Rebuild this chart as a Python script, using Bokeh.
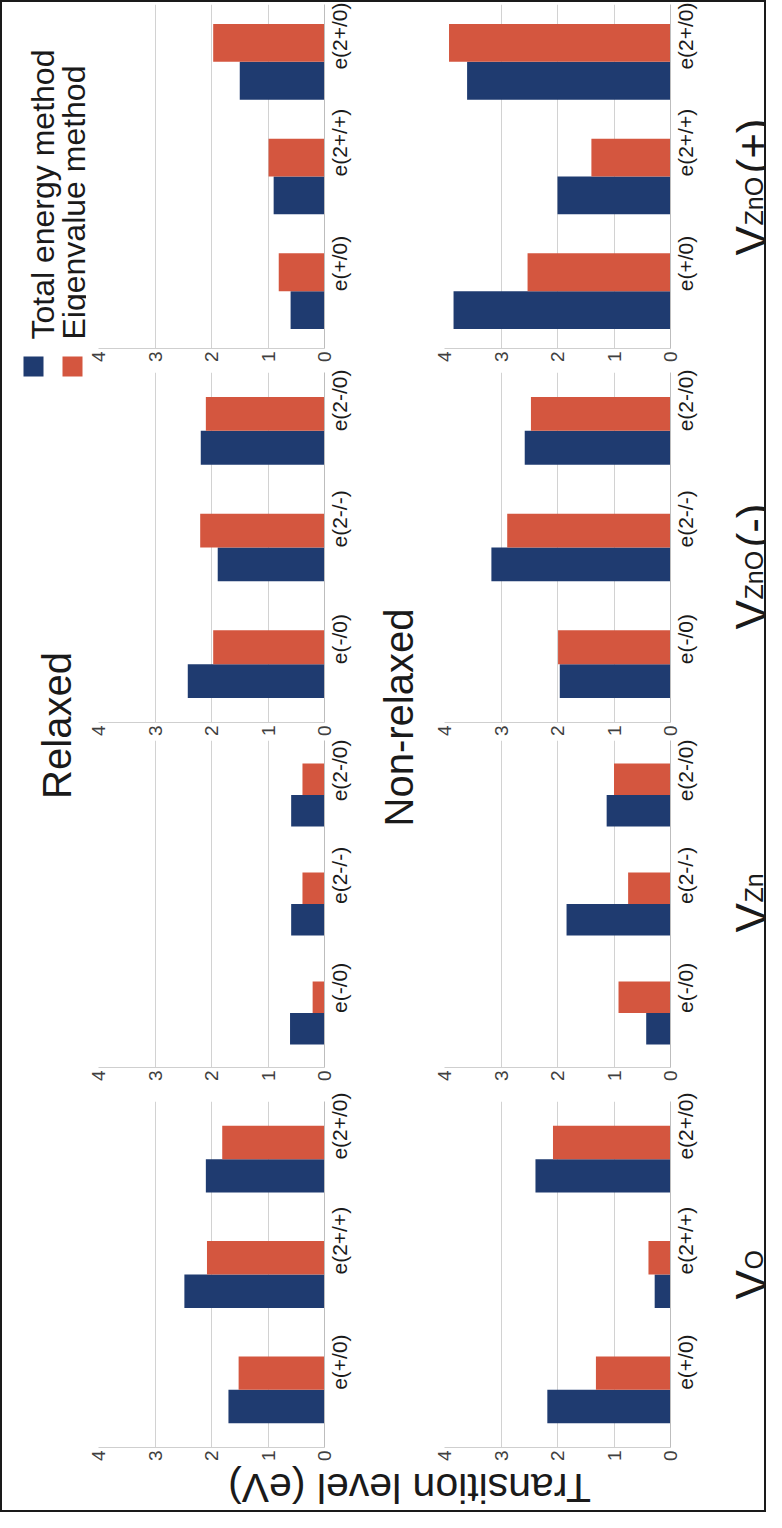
from math import pi
from bokeh.plotting import figure
from bokeh.models import Range1d, FactorRange, FixedTicker, ColumnDataSource, Label
from bokeh.layouts import row, column
from bokeh.transform import dodge
from bokeh.embed import file_html
from bokeh.resources import INLINE

FONT = "Liberation Sans"
BLUE = "#1f3b70"
RED = "#d4563f"
TXT = "#1a1a1a"

# ---------------- data (original column order, left -> right) ----------------
cats_vo = ["e(+/0)", "e(2+/+)", "e(2+/0)"]
cats_vzn = ["e(-/0)", "e(2-/-)", "e(2-/0)"]
cats_vzno_minus = ["e(-/0)", "e(2-/-)", "e(2-/0)"]
cats_vzno_plus = ["e(+/0)", "e(2+/+)", "e(2+/0)"]

relaxed_total_vo = [1.70, 2.48, 2.10]
relaxed_eigen_vo = [1.52, 2.08, 1.81]
relaxed_total_vzn = [0.61, 0.59, 0.59]
relaxed_eigen_vzn = [0.21, 0.39, 0.39]
relaxed_total_vzno_minus = [2.42, 1.89, 2.19]
relaxed_eigen_vzno_minus = [1.97, 2.20, 2.10]
relaxed_total_vzno_plus = [0.60, 0.90, 1.50]
relaxed_eigen_vzno_plus = [0.81, 0.99, 1.97]

nonrelaxed_total_vo = [2.18, 0.28, 2.39]
nonrelaxed_eigen_vo = [1.32, 0.39, 2.08]
nonrelaxed_total_vzn = [0.43, 1.84, 1.13]
nonrelaxed_eigen_vzn = [0.92, 0.75, 1.00]
nonrelaxed_total_vzno_minus = [1.96, 3.17, 2.58]
nonrelaxed_eigen_vzno_minus = [1.99, 2.89, 2.47]
nonrelaxed_total_vzno_plus = [3.84, 2.00, 3.60]
nonrelaxed_eigen_vzno_plus = [2.53, 1.40, 3.92]

value_ticks = [0, 1, 2, 3, 4]
series_names = ["Total energy method", "Eigenvalue method"]
panel_titles = ["Relaxed", "Non-relaxed"]
axis_title = "Transition level (eV)"
defect_names = [  # (main letter, subscript, suffix) in panel order top -> bottom
    ("V", "ZnO", "(+)"),
    ("V", "ZnO", "(-)"),
    ("V", "Zn", ""),
    ("V", "O", ""),
]

# ---------------- layout geometry (page pixels, content box 10..772 x 10..1518) ----------------
# rows from top: V_ZnO(+), V_ZnO(-), V_Zn, V_O
bands = [  # (height, top border, bottom border, bar height in category units)
    (367, 2, 21, 0.33),
    (370, 3, 16, 0.29),
    (353, 1, 25, 0.29),
    (372, 9, 16, 0.29),
]
Y0, Y1, Y2 = 10, 1472, 1518


def panel(cats, total, eigen, width, left, right, band):
    height, top, bottom, bh = band
    p = figure(width=width, height=height, x_range=Range1d(4, 0),
               y_range=FactorRange(factors=cats, range_padding=0),
               toolbar_location=None, output_backend="svg",
               x_axis_location="below", y_axis_location="right",
               min_border_left=left, min_border_right=right,
               min_border_top=top, min_border_bottom=bottom,
               outline_line_color=None)
    src = ColumnDataSource(dict(cat=cats, total=total, eigen=eigen))
    p.hbar(y=dodge("cat", -bh / 2, range=p.y_range), left=0, right="total",
           height=bh, source=src, fill_color=BLUE, line_color=None)
    p.hbar(y=dodge("cat", bh / 2, range=p.y_range), left=0, right="eigen",
           height=bh, source=src, fill_color=RED, line_color=None)
    p.xaxis.ticker = FixedTicker(ticks=value_ticks)
    p.xgrid.ticker = FixedTicker(ticks=value_ticks)
    p.xgrid.grid_line_color = "#d2d2d2"
    p.ygrid.grid_line_color = None
    xa = p.xaxis[0]
    xa.major_label_orientation = pi / 2
    xa.major_label_text_font = FONT
    xa.major_label_text_font_size = "19px"
    xa.major_label_text_color = "#404040"
    xa.major_label_standoff = 3
    xa.axis_line_color = "#cfcfcf"
    xa.major_tick_line_color = None
    xa.minor_tick_line_color = None
    xa.major_tick_out = 0
    xa.major_tick_in = 0
    xa.minor_tick_out = 0
    xa.minor_tick_in = 0
    ya = p.yaxis[0]
    ya.major_label_orientation = pi / 2
    ya.major_label_text_font = FONT
    ya.major_label_text_font_size = "21px"
    ya.major_label_text_color = TXT
    ya.major_label_standoff = 15
    ya.axis_line_color = "#bdbdbd"
    ya.major_tick_line_color = None
    ya.major_tick_out = 0
    ya.major_tick_in = 0
    return p


def text_fig(x0, x1, y0, y1):
    p = figure(width=x1 - x0, height=y1 - y0, x_range=Range1d(x0, x1),
               y_range=Range1d(y1, y0), toolbar_location=None,
               output_backend="svg", x_axis_location=None, y_axis_location=None,
               min_border=0, outline_line_color=None)
    p.grid.visible = False
    return p


def lab(p, x, y, text, size, angle=pi / 2, align="left", base="alphabetic"):
    p.add_layout(Label(x=x, y=y, text=text, angle=angle, text_font=FONT,
                       text_font_size=f"{size}px", text_color=TXT,
                       text_align=align, text_baseline=base))


rel_data = [
    (cats_vzno_plus, relaxed_total_vzno_plus, relaxed_eigen_vzno_plus),
    (cats_vzno_minus, relaxed_total_vzno_minus, relaxed_eigen_vzno_minus),
    (cats_vzn, relaxed_total_vzn, relaxed_eigen_vzn),
    (cats_vo, relaxed_total_vo, relaxed_eigen_vo),
]
non_data = [
    (cats_vzno_plus, nonrelaxed_total_vzno_plus, nonrelaxed_eigen_vzno_plus),
    (cats_vzno_minus, nonrelaxed_total_vzno_minus, nonrelaxed_eigen_vzno_minus),
    (cats_vzn, nonrelaxed_total_vzn, nonrelaxed_eigen_vzn),
    (cats_vo, nonrelaxed_total_vo, nonrelaxed_eigen_vo),
]

# relaxed column: x 94 -> 382, frame 106 -> 332
rel_figs = [panel(c, t, e, 288, 12, 50, b) for (c, t, e), b in zip(rel_data, bands)]
# non-relaxed column: x 440 -> 726, frame 452 -> 678
non_figs = [panel(c, t, e, 286, 12, 48, b) for (c, t, e), b in zip(non_data, bands)]

# left strip: legend + "Relaxed"
colA = text_fig(10, 94, Y0, Y1)
colA.quad(left=[31, 70], right=[51, 90], top=[364, 364], bottom=[384, 384],
          fill_color=[BLUE, RED], line_color=None)
lab(colA, 50, 347, series_names[0], 32)
lab(colA, 81, 347, series_names[1], 32)
lab(colA, 64, 733, panel_titles[0], 40, align="center", base="middle")

# middle strip: "Non-relaxed"
mid = text_fig(382, 440, Y0, Y1)
lab(mid, 406, 725, panel_titles[1], 40, align="center", base="middle")

# right strip: defect names with subscripts (baseline x, start y, size)
vcol = text_fig(726, 772, Y0, Y1)
name_pos = [
    [(759, 263, 44), (761, 233, 25), (760, 181, 44)],
    [(759, 637, 44), (761, 607, 25), (760, 555, 44)],
    [(759, 940, 44), (761, 910, 25), None],
    [(759, 1307, 44), (761, 1277, 25), None],
]
for names, poss in zip(defect_names, name_pos):
    for txt, pos in zip(names, poss):
        if txt and pos is not None:
            lab(vcol, pos[0], pos[1], txt, pos[2])

# bottom strip: axis title (upside down, as in the rotated figure)
strip = text_fig(10, 772, Y1, Y2)
lab(strip, 417, 1495, axis_title, 41, angle=pi, align="center", base="middle")

main = row(colA, column(*rel_figs), mid, column(*non_figs), vcol)
layout = column(main, strip, styles={"border": "2px solid #1a1a1a"})

open("out.html", "w").write(file_html(layout, INLINE))
